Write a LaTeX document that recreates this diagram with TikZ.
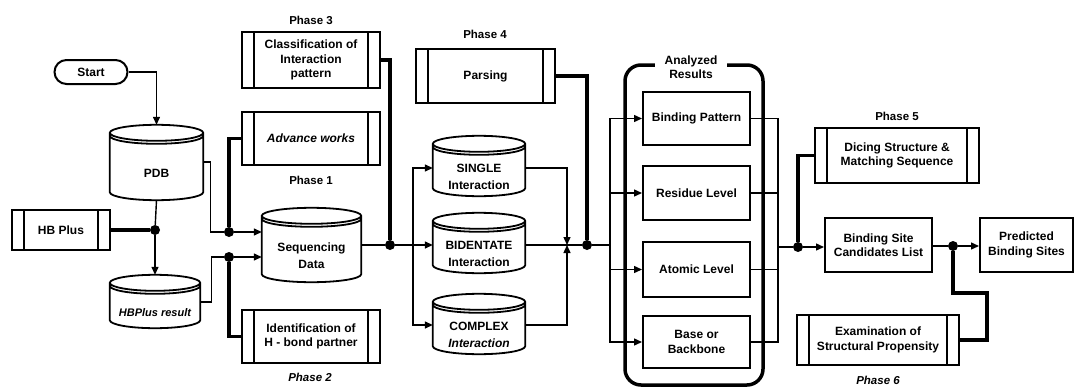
\documentclass[tikz,border=0pt]{standalone}
\usepackage{fontspec}
\setmainfont{Liberation Sans}
\usetikzlibrary{arrows.meta,calc}
\begin{document}
\begin{tikzpicture}[x=1pt,y=-1pt,
  every node/.style={font=\fontsize{12}{14.5}\selectfont\bfseries, align=center},
  thinl/.style={line width=1.4pt},
  thickl/.style={line width=3.5pt},
  arr/.style={-{Triangle[length=8pt,width=7pt]}},
  box/.style={draw, line width=2pt, inner sep=0pt},
  proc/.style={box, path picture={\draw[line width=1.4pt]
      ([xshift=12pt]path picture bounding box.north west) -- ([xshift=12pt]path picture bounding box.south west)
      ([xshift=-12pt]path picture bounding box.north east) -- ([xshift=-12pt]path picture bounding box.south east);}},
  term/.style={box, rounded corners=12pt},
  db/.style={inner sep=0pt, font=\fontsize{12}{17}\selectfont\bfseries},
  dbline/.style={line width=1.8pt},
  dot/.style={circle, fill, inner sep=0pt, minimum size=10pt},
  phase/.style={font=\fontsize{11.5}{13}\selectfont\bfseries},
  frame/.style={draw, line width=3.5pt, rounded corners=16pt, inner sep=0pt},
]
\useasboundingbox (0,0) rectangle (1076,388);

% nodes
\node[term, minimum width=73pt, minimum height=24pt] (start) at (91,72) {Start};
\node[db, minimum width=93pt, minimum height=53pt] (pdb) at (156.5,173.5) {PDB};
\node[proc, minimum width=98pt, minimum height=40pt] (hbp) at (61,230) {HB Plus};
\node[db, minimum width=90pt, minimum height=31pt, font=\fontsize{11}{13}\selectfont\bfseries] (hbr) at (155,312.5) {\itshape HBPlus result};

\node[phase] (p3) at (311,20) {Phase 3};
\node[proc, minimum width=138pt, minimum height=56pt] (cls) at (311,60) {Classification of\\Interaction\\pattern};
\node[proc, minimum width=138pt, minimum height=53pt] (adv) at (311,138.5) {\itshape Advance works};
\node[phase] (p1) at (311,180) {Phase 1};
\node[db, minimum width=99pt, minimum height=52pt] (seq) at (311.5,256) {Sequencing\\Data};
\node[proc, minimum width=138pt, minimum height=53pt] (idt) at (311,336.5) {Identification of\\H - bond partner};
\node[phase] (p2) at (310,377) {\itshape Phase 2};

\node[phase] (p4) at (485,34) {Phase 4};
\node[proc, minimum width=139pt, minimum height=54pt] (prs) at (485.5,76) {Parsing};
\node[db, minimum width=92pt, minimum height=38pt] (single) at (479,177) {SINGLE\\Interaction};
\node[db, minimum width=92pt, minimum height=38pt] (bid) at (479,254) {BIDENTATE\\Interaction};
\node[db, minimum width=92pt, minimum height=38pt] (cpx) at (479,335) {COMPLEX\\\itshape Interaction};

\node[frame, minimum width=138pt, minimum height=320pt] (ar) at (694,225) {};
\node[fill=white, inner xsep=10pt, inner ysep=1pt] (art) at (691,67) {Analyzed\\Results};
\node[box, minimum width=107pt, minimum height=53pt] (bp) at (696.5,118.5) {Binding Pattern};
\node[box, minimum width=107pt, minimum height=54pt] (rl) at (696.5,193) {Residue Level};
\node[box, minimum width=107pt, minimum height=55pt] (al) at (696.5,269.5) {Atomic Level};
\node[box, minimum width=107pt, minimum height=52pt] (bb) at (696.5,342) {Base or\\Backbone};

\node[phase] (p5) at (897,116) {Phase 5};
\node[proc, minimum width=164pt, minimum height=55pt] (dic) at (897,155.5) {Dicing Structure \&\\Matching Sequence};
\node[box, minimum width=107pt, minimum height=54pt] (bsc) at (878.5,245) {Binding Site\\Candidates List};
\node[box, minimum width=93pt, minimum height=54pt] (pred) at (1026.5,245) {Predicted\\Binding Sites};
\node[proc, minimum width=162pt, minimum height=50pt] (exam) at (878,340) {Examination of\\Structural Propensity};
\node[phase] (p6) at (878,380) {\itshape Phase 6};

% cylinders
\foreach \nm in {pdb,hbr,seq,single,bid,cpx}{
  \draw[dbline] let \p1=(\nm.north west), \p2=(\nm.south east), \n1={(\x2-\x1)/2} in
    (\x1,\y1+14pt) -- (\x1,\y2+8pt)
    arc[start angle=180,end angle=360,x radius=\n1,y radius=8pt]
    -- (\x2,\y1+14pt)
    arc[start angle=0,end angle=180,x radius=\n1,y radius=8pt]
    arc[start angle=180,end angle=360,x radius=\n1,y radius=8pt]
    (\x1,\y1+11pt) arc[start angle=180,end angle=360,x radius=\n1,y radius=8pt];
}

% dots and junctions
\node[dot] (d1) at (155,230) {};
\node[dot] (d2) at (229,232) {};
\node[dot] (d3) at (229,257) {};
\node[dot] (d4) at (390,245) {};
\node[dot] (d5) at (587,245) {};
\node[dot] (d6) at (798,247) {};
\node[dot] (d7) at (953,246) {};
\coordinate (b1) at (413,245);
\coordinate (m) at (567,245);
\coordinate (b2) at (610,245);
\coordinate (b3) at (778,247);

% connectors
\draw[thinl,arr] (start.east) -| ([yshift=22pt]pdb.north);
\draw[thinl] (pdb.south) -- (d1);
\draw[thinl,arr] (d1) -- ([yshift=22pt]hbr.north);
\draw[thickl] (hbp.east) -- (d1);

\draw[thinl] ([yshift=11.5pt]pdb.east) -- ++(7,0) |- (d2);
\draw[thinl,arr] (d2) -- (seq.west |- d2);
\draw[thickl] (adv.west) -| (d2);
\draw[thinl] ([yshift=10.5pt]hbr.east) -- ++(11,0) |- (d3);
\draw[thinl,arr] (d3) -- (seq.west |- d3);
\draw[thickl] (idt.west) -| (d3);

\draw[thinl] (seq.east |- d4) -- (d4);
\draw[thickl] (cls.east) -| (d4);
\draw[thinl,arr] (d4) -- (bid.west |- d4);
\draw[thinl,arr] (b1) |- ([yshift=9pt]single.west);
\draw[thinl,arr] (b1) |- ([yshift=10pt]cpx.west);
\draw[thinl,arr] ([yshift=9pt]single.east) -| (m);
\draw[thinl,arr] ([yshift=10pt]cpx.east) -| (m);
\draw[thinl] (bid.east |- d5) -- (d5);
\draw[thickl] (prs.east) -| (d5);

\draw[thinl] (d5) -- (b2);
\draw[thinl,arr] (b2) |- (bp.west);
\draw[thinl,arr] (b2) |- (rl.west);
\draw[thinl,arr] (b2) |- (al.west);
\draw[thinl,arr] (b2) |- (bb.west);
\draw[thinl] (bp.east) -| (b3);
\draw[thinl] (rl.east) -| (b3);
\draw[thinl] (al.east) -| (b3);
\draw[thinl] (bb.east) -| (b3);

\draw[thinl] (b3) -- (d6);
\draw[thinl,arr] (d6) -- (bsc.west |- d6);
\draw[thickl] (dic.west) -| (d6);
\draw[thinl] (bsc.east |- d7) -- (d7);
\draw[thinl,arr] (d7) -- (pred.west |- d7);
\draw[thickl] (exam.east) -| (987,293) -| (d7);
\end{tikzpicture}
\end{document}
